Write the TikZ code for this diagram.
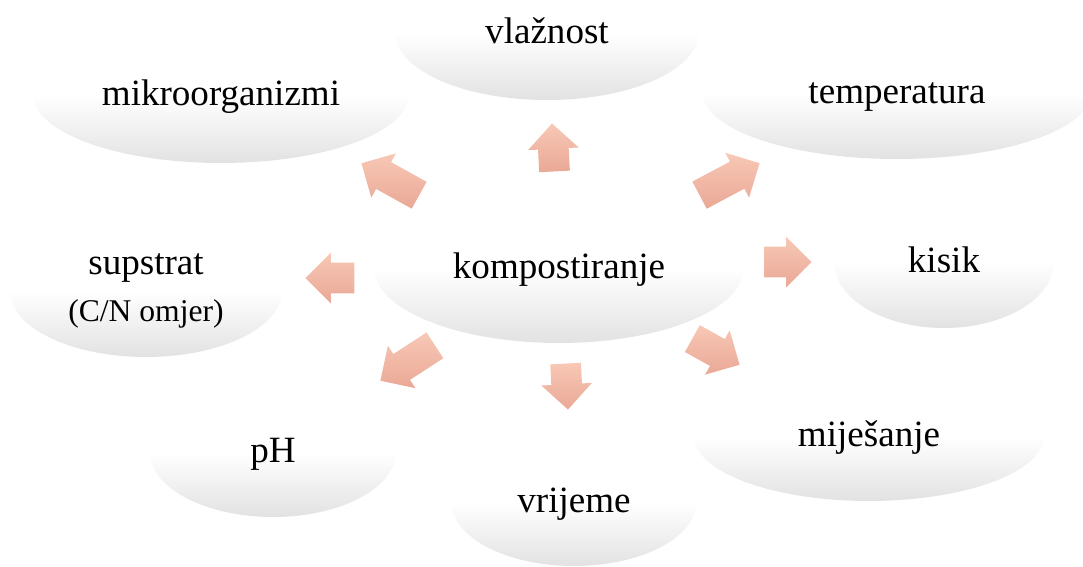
\documentclass[tikz,border=0pt]{standalone}
\usepackage{fontspec}
\setmainfont{Liberation Serif}
\usepackage{tikz}
\usetikzlibrary{shapes.geometric,shapes.arrows}
\definecolor{Shadow}{RGB}{226, 226, 226}
\definecolor{ArrowTop}{RGB}{248, 200, 182}
\definecolor{ArrowBottom}{RGB}{234, 168, 150}
\pgfdeclareverticalshading{Bubble}{100bp}{color(0bp)=(Shadow); color(25bp)=(Shadow); color(50bp)=(white); color(100bp)=(white)}

\begin{document}
\begin{tikzpicture}[x=0.02cm, y=-0.02cm,
    bubble/.style={ellipse, shading=Bubble, inner sep=0pt,
        font=\fontsize{21.1}{25}\selectfont, text height=16.5pt, text depth=4pt},
    blockarrow/.style={single arrow, draw=none, inner xsep=0pt, inner ysep=0.3cm,
        single arrow head extend=0.2cm, minimum width=1cm, anchor=tip,
        top color=ArrowTop, bottom color=ArrowBottom}]
    %%Background
    \clip (0,0) rectangle (1083,566);

    %% Bubbles
    \node[bubble, minimum width=6.06cm, minimum height=2.68cm] (vl) at (547,33) {vlažnost};
    \node[bubble, minimum width=7.5cm, minimum height=2.72cm] (mik) at (221,95) {mikroorganizmi};
    \node[bubble, minimum width=7.76cm, minimum height=2.64cm] (tem) at (897,93) {temperatura};
    \node[bubble, minimum width=4.4cm, minimum height=2.64cm] (kis) at (944,262) {kisik};
    \node[bubble, minimum width=5.44cm, minimum height=2.64cm, align=center,
        text height={}, text depth={}] (sup) at (146,291)
        {supstrat\\[2pt]{\fontsize{18}{22}\selectfont (C/N omjer)}};
    \node[bubble, minimum width=7.4cm, minimum height=3cm] (hub) at (559,268) {kompostiranje};
    \node[bubble, minimum width=4.92cm, minimum height=2.6cm] (ph) at (273,452) {pH};
    \node[bubble, minimum width=4.9cm, minimum height=2.56cm] (vr) at (574,502) {vrijeme};
    \node[bubble, minimum width=7cm, minimum height=2.6cm] (mie) at (869,436) {miješanje};

    %% Arrows (tip at the given point)
    \node[blockarrow, minimum height=0.96cm, rotate=93] (ar-vl) at (552,123) {};
    \node[blockarrow, minimum height=1.32cm, rotate=151] (ar-mik) at (361,163) {};
    \node[blockarrow, minimum height=1.36cm, rotate=28] (ar-tem) at (760,163) {};
    \node[blockarrow, minimum height=0.94cm] (ar-kis) at (812,262) {};
    \node[blockarrow, minimum height=0.98cm, rotate=180] (ar-sup) at (305,278) {};
    \node[blockarrow, minimum height=1.3cm, rotate=213] (ar-ph) at (380,381) {};
    \node[blockarrow, minimum height=0.92cm, rotate=-87] (ar-vr) at (568,410) {};
    \node[blockarrow, minimum height=1.08cm, rotate=-29] (ar-mie) at (740,365) {};

\end{tikzpicture}
\end{document}
